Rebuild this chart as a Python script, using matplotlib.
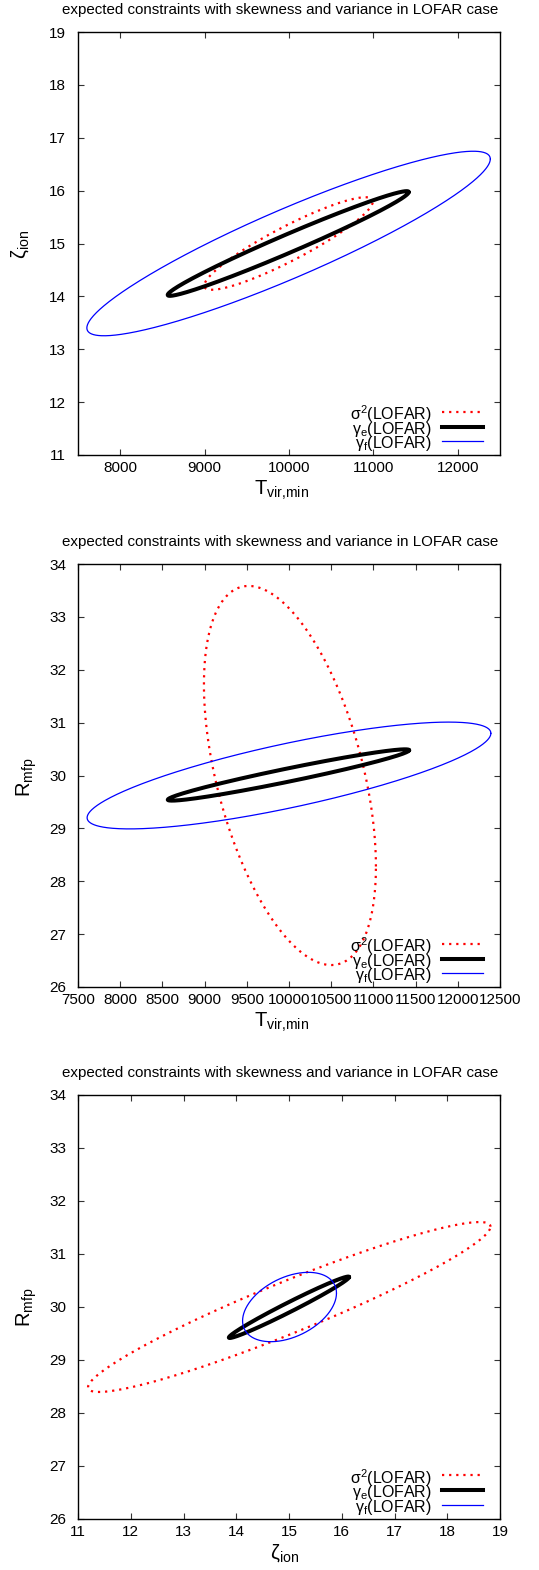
import numpy as np
import matplotlib
matplotlib.use("Agg")
import matplotlib.pyplot as plt

plt.rcParams['font.family'] = ['Liberation Sans', 'DejaVu Sans']
plt.rcParams['mathtext.fontset'] = 'custom'
plt.rcParams['mathtext.rm'] = 'Liberation Sans'
plt.rcParams['mathtext.it'] = 'Liberation Sans:italic'
plt.rcParams['mathtext.bf'] = 'Liberation Sans:bold'

# ---------------- data ----------------
title = "expected constraints with skewness and variance in LOFAR case"
series_labels = [r'$\mathrm{σ}^{2}\mathrm{(LOFAR)}$',
                 r'$\mathrm{γ}_{\mathrm{e}}\mathrm{(LOFAR)}$',
                 r'$\mathrm{γ}_{\mathrm{f}}\mathrm{(LOFAR)}$']
series_colors = ['#ff0000', '#000000', '#0000ff']

# Panel 1: T_vir,min vs zeta_ion  (order: sigma2, gamma_e, gamma_f)
p1_cx = [9995, 9991, 9995]
p1_cy = [15.0, 15.0, 15.0]
p1_sx = [999, 1428, 2390]
p1_sy = [0.875, 0.99, 1.745]
p1_rho = [0.91, 0.982, 0.915]

# Panel 2: T_vir,min vs R_mfp
p2_cx = [10011, 9994, 10000]
p2_cy = [30.0, 30.01, 30.0]
p2_sx = [1019, 1430, 2392]
p2_sy = [3.585, 0.485, 1.01]
p2_rho = [-0.48, 0.965, 0.79]

# Panel 3: zeta_ion vs R_mfp
p3_cx = [15.005, 15.0, 15.01]
p3_cy = [29.995, 29.99, 29.995]
p3_sx = [3.815, 1.14, 0.89]
p3_sy = [1.605, 0.58, 0.655]
p3_rho = [0.945, 0.985, 0.40]

p1_xticks = [8000, 9000, 10000, 11000, 12000]
p1_yticks = [11, 12, 13, 14, 15, 16, 17, 18, 19]
p2_xticks = [7500, 8000, 8500, 9000, 9500, 10000, 10500, 11000, 11500, 12000, 12500]
p2_yticks = [26, 27, 28, 29, 30, 31, 32, 33, 34]
p3_xticks = [11, 12, 13, 14, 15, 16, 17, 18, 19]
p3_yticks = [26, 27, 28, 29, 30, 31, 32, 33, 34]

xlabel_T = r'$\mathrm{T}_{\mathrm{vir{,}min}}$'
label_zeta = r'$\mathrm{ζ}_{\mathrm{ion}}$'
label_R = r'$\mathrm{R}_{\mathrm{mfp}}$'

# ---------------- figure ----------------
W, H = 539, 1570
fig = plt.figure(figsize=(W / 100, H / 100), dpi=100)


def axes_px(left, top, right, bottom):
    return fig.add_axes([left / W, 1 - bottom / H, (right - left) / W, (bottom - top) / H])


styles = [dict(ls=(0, (1, 2.2)), lw=1.6),
          dict(ls='-', lw=2.9),
          dict(ls='-', lw=0.9)]


def draw_panel(ax, cx, cy, sx, sy, rho, xlim, ylim, xticks, yticks, xlabel, ylabel, xlab_pos, ylab_pos):
    t = np.linspace(0, 2 * np.pi, 600)
    lines = []
    for i in range(3):
        x = cx[i] + sx[i] * np.cos(t)
        y = cy[i] + sy[i] * (rho[i] * np.cos(t) + np.sqrt(1 - rho[i] ** 2) * np.sin(t))
        ln, = ax.plot(x, y, color=series_colors[i], solid_capstyle='round',
                      dash_capstyle='butt', **styles[i])
        lines.append(ln)
    ax.set_xlim(*xlim)
    ax.set_ylim(*ylim)
    ax.set_xticks(xticks)
    ax.set_yticks(yticks)
    ax.tick_params(direction='in', length=4.3, width=0.8, top=True, right=True,
                   labelsize=11, color='#333333')
    ax.tick_params(axis='y', pad=8.5)
    ax.tick_params(axis='x', pad=4.5)
    for s in ax.spines.values():
        s.set_linewidth(1.0)
    ax.set_xlabel(xlabel, fontsize=14.5, va='center', ha='center')
    ax.xaxis.set_label_coords(*xlab_pos)
    ax.set_ylabel(ylabel, fontsize=14.5, va='center', ha='center')
    ax.yaxis.set_label_coords(*ylab_pos)
    ax.set_title(title, fontsize=10.9, x=0.48, y=1.051, pad=0, va='center')

    # gnuplot-style key: text right-aligned, sample to the right
    ys = [0.102, 0.067, 0.033]
    for i in range(3):
        ax.plot([0.862, 0.96], [ys[i], ys[i]], transform=ax.transAxes,
                color=series_colors[i], **styles[i])
        ax.text(0.838, ys[i], series_labels[i], transform=ax.transAxes,
                ha='right', va='center_baseline', fontsize=11.5)
    return lines


ax1 = axes_px(78, 32, 500, 455)
draw_panel(ax1, p1_cx, p1_cy, p1_sx, p1_sy, p1_rho, (7500, 12500), (11, 19),
           p1_xticks, p1_yticks, xlabel_T, label_zeta, (0.482, -0.083), (-0.137, 0.497))

ax2 = axes_px(78, 564, 500, 987)
draw_panel(ax2, p2_cx, p2_cy, p2_sx, p2_sy, p2_rho, (7500, 12500), (26, 34),
           p2_xticks, p2_yticks, xlabel_T, label_R, (0.482, -0.083), (-0.122, 0.497))

ax3 = axes_px(78, 1095, 500, 1518.5)
draw_panel(ax3, p3_cx, p3_cy, p3_sx, p3_sy, p3_rho, (11, 19), (26, 34),
           p3_xticks, p3_yticks, label_zeta, label_R, (0.49, -0.081), (-0.122, 0.5))

fig.savefig("out.png", dpi=100)
